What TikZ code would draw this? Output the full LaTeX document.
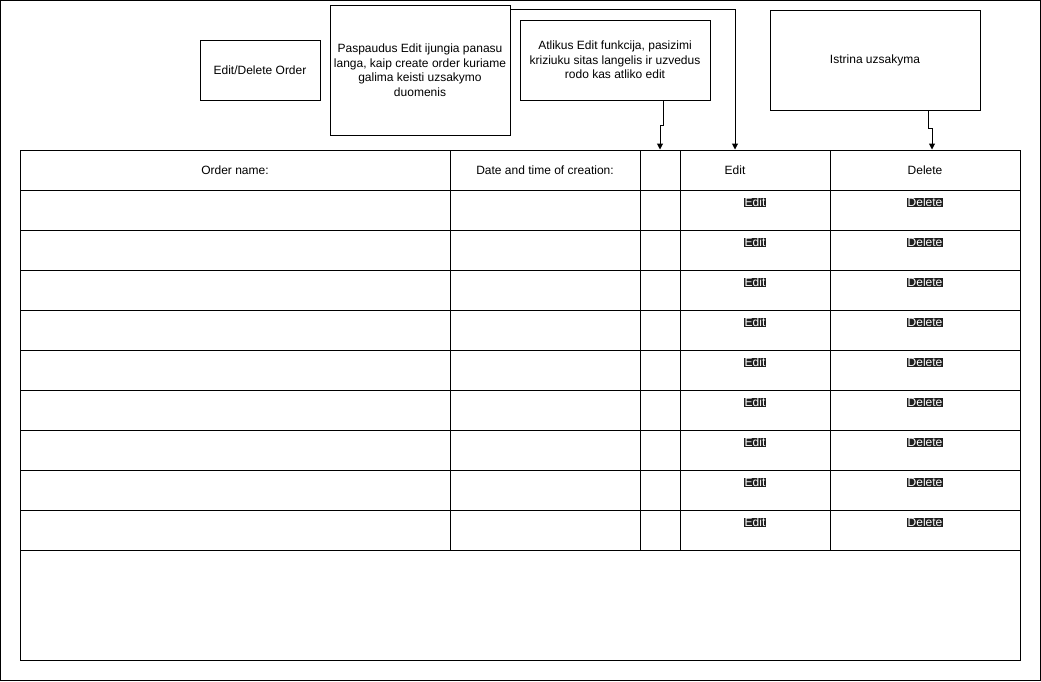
\documentclass[tikz,border=0pt]{standalone}
\usepackage{fontspec}
\setmainfont{Liberation Sans}
\usetikzlibrary{positioning,arrows.meta}

\tikzset{
  note/.style={draw, rectangle, line width=1pt, align=center, inner sep=0pt},
  cell/.style={draw, rectangle, line width=1pt, minimum height=40pt, inner sep=0pt},
  btn/.style={fill=black!88, text=white, inner sep=0.5pt, font=\fontsize{12}{12}\selectfont},
  arr/.style={-{Triangle[length=6pt,width=6pt]}, line width=1pt}
}

\begin{document}
\begin{tikzpicture}[x=1pt, y=-1pt, font=\fontsize{12}{14.5}\selectfont]
        \useasboundingbox (0,0) rectangle (1041,681);
        \draw[line width=1pt] (0.5,0.5) rectangle (1040.5,680.5);

        % Pastabos virsuje
        \node[note, minimum width=120pt, minimum height=60pt] (title) at (260,70) {Edit/Delete Order};
        \node[note, minimum width=180pt, minimum height=130pt] (paspaudus) at (420,70)
            {Paspaudus Edit ijungia panasu\\langa, kaip create order kuriame\\galima keisti uzsakymo\\duomenis};
        \node[note, minimum width=190pt, minimum height=80pt] (atlikus) at (615,60)
            {Atlikus Edit funkcija, pasizimi\\kriziuku sitas langelis ir uzvedus\\rodo kas atliko edit};
        \node[note, minimum width=210pt, minimum height=100pt] (istrina) at (875,60) {Istrina uzsakyma};

        % Lenteles antraste
        \node[cell, minimum width=430pt] (hname) at (235,170) {Order name:};
        \node[cell, minimum width=190pt] (hdate) at (545,170) {Date and time of creation:};
        \node[cell, minimum width=40pt] (hchk) at (660,170) {};
        \node[cell, minimum width=150pt] (hedit) at (755,170) {};
        \node (hedittxt) at (735,170) {Edit};
        \node[cell, minimum width=190pt] (hdel) at (925,170) {Delete};

        % Eilutes
        \foreach \i in {1,...,9} {
          \pgfmathsetmacro{\yy}{170+40*\i}
          \node[cell, minimum width=430pt] (name\i) at (235,\yy) {};
          \node[cell, minimum width=190pt] (date\i) at (545,\yy) {};
          \node[cell, minimum width=40pt] (chk\i) at (660,\yy) {};
          \node[cell, minimum width=150pt] (edit\i) at (755,\yy) {};
          \node[cell, minimum width=190pt] (del\i) at (925,\yy) {};
          \node[btn] (ebtn\i) at (755,\yy-7.5) {Edit};
          \node[btn] (dbtn\i) at (925,\yy-7.5) {Delete};
        }
        \node[cell, minimum width=1000pt, minimum height=110pt] (tuscia) at (520,605) {};

        % Rodykles
        \draw[arr] ([xshift=48pt]atlikus.south) -- ++(0,25) -| (hchk.north);
        \draw[arr] ([yshift=-5pt]paspaudus.north east) -| (hedittxt |- hedit.north);
        \draw[arr] ([xshift=53pt]istrina.south) -- ++(0,18) -| ([xshift=7pt]hdel.north);
    \end{tikzpicture}
\end{document}
